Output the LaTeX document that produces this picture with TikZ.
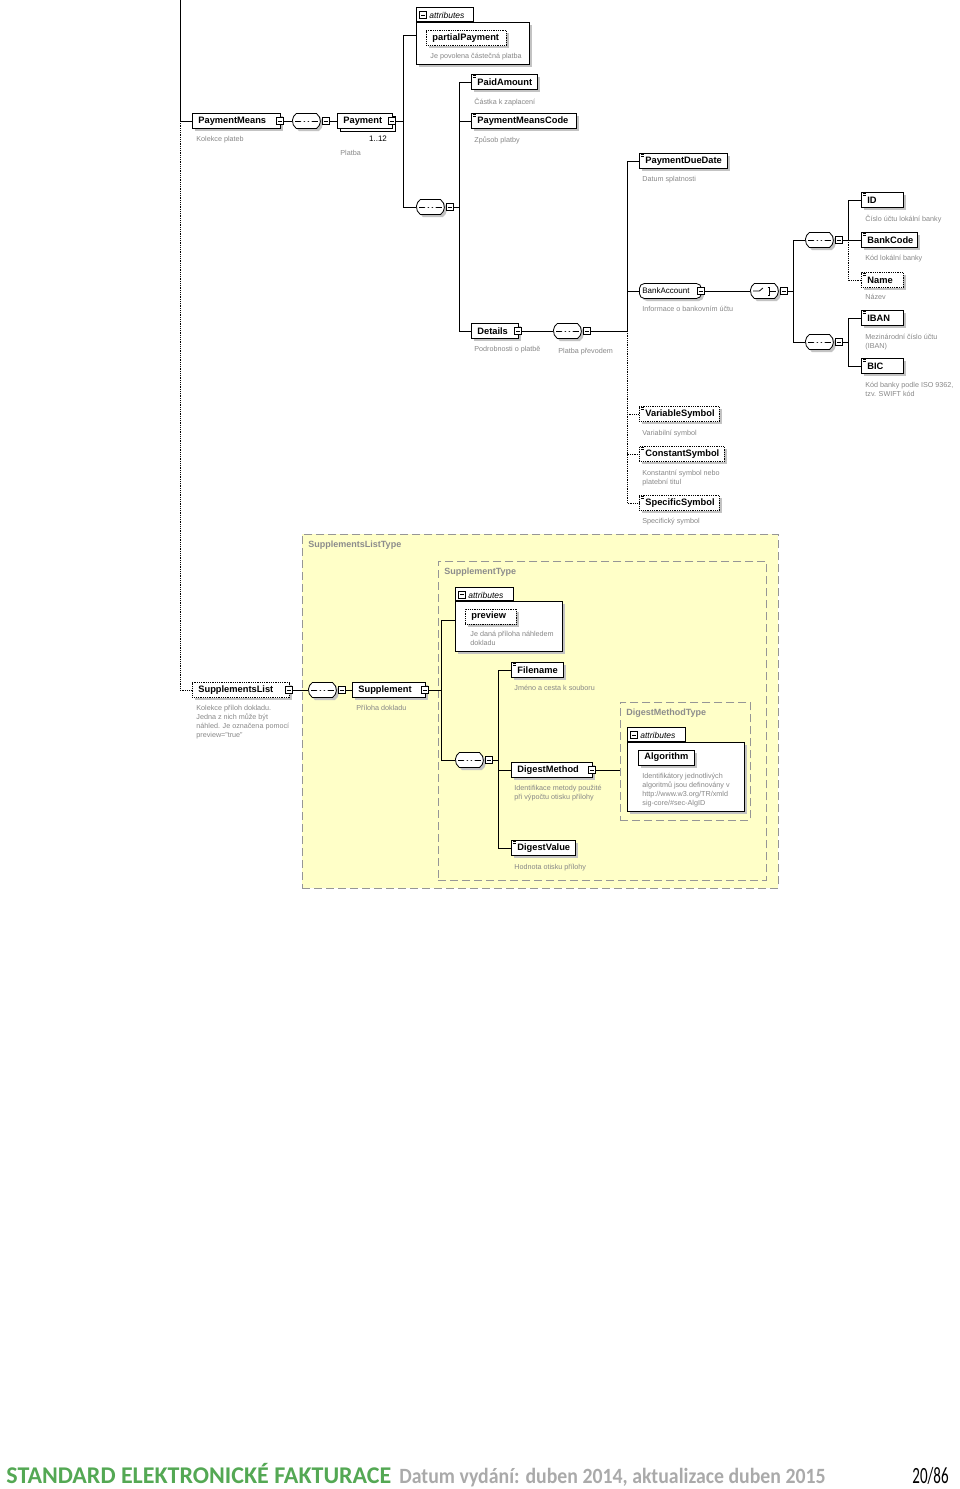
\documentclass[tikz,border=0pt]{standalone}
\usepackage{fontspec}
\usepackage{graphicx}
\setmainfont{Liberation Sans}
\newfontfamily\footfont{Carlito}
\usetikzlibrary{shapes.misc,shadows}
\definecolor{desc}{RGB}{135,135,135}
\definecolor{ybg}{RGB}{255,255,200}
\definecolor{ybd}{RGB}{150,150,150}
\definecolor{tlab}{RGB}{140,140,140}
\definecolor{fgreen}{RGB}{84,168,84}
\definecolor{fgray}{RGB}{170,170,170}
\definecolor{shd}{RGB}{195,195,195}
\tikzset{
  sh/.style={drop shadow={shadow xshift=2.5pt,shadow yshift=-2.5pt,fill=shd,opacity=1}},
  elbase/.style={draw, fill=white, line width=0.8pt, minimum height=15pt, inner ysep=0pt, inner xsep=6pt,
    anchor=west, align=left, text width=#1,
    font=\fontsize{9.3}{10}\selectfont\bfseries},
  el/.style={elbase=#1, sh},
  opt/.style={densely dotted},
  mb/.style={draw, fill=white, line width=0.6pt, minimum size=7pt, inner sep=0pt,
    path picture={\draw[line width=0.6pt] ([xshift=1.5pt]path picture bounding box.west) -- ([xshift=-1.5pt]path picture bounding box.east);}},
  comp/.style={draw, fill=white, line width=0.8pt, rounded rectangle, rounded rectangle arc length=110,
    minimum width=28pt, minimum height=15pt, inner sep=0pt, anchor=west, sh},
  seqp/.style={path picture={
    \draw[line width=0.9pt] ([xshift=3pt]path picture bounding box.west) -- ([xshift=-3pt]path picture bounding box.east);
    \fill (path picture bounding box.center) circle (1.8pt)
          ([xshift=-4pt]path picture bounding box.center) circle (1.8pt)
          ([xshift=4pt]path picture bounding box.center) circle (1.8pt);}},
  choicep/.style={path picture={
    \draw[line width=0.8pt] ([xshift=3pt]path picture bounding box.west) -- ([xshift=-5pt]path picture bounding box.center)
       -- ([xshift=-1.5pt,yshift=3pt]path picture bounding box.center);
    \fill ([xshift=1.5pt,yshift=3pt]path picture bounding box.center) circle (1pt)
          ([xshift=1.5pt]path picture bounding box.center) circle (1pt)
          ([xshift=1.5pt,yshift=-3pt]path picture bounding box.center) circle (1pt);
    \draw[line width=0.6pt] ([xshift=3.2pt,yshift=4pt]path picture bounding box.center) -- ([xshift=4.8pt,yshift=4pt]path picture bounding box.center)
       -- ([xshift=4.8pt,yshift=-4pt]path picture bounding box.center) -- ([xshift=3.2pt,yshift=-4pt]path picture bounding box.center);
    \draw[line width=0.8pt] ([xshift=4.8pt]path picture bounding box.center) -- ([xshift=-3pt]path picture bounding box.east);}},
  ds/.style={font=\fontsize{7.2}{9}\selectfont, text=desc, anchor=north west, inner sep=0pt, align=left, yshift=-1.5pt},
  box/.style={draw, fill=white, line width=0.8pt, inner sep=0pt},
  atl/.style={font=\fontsize{8.5}{9}\selectfont\itshape, inner sep=0pt, anchor=west},
  tl/.style={font=\fontsize{9}{10}\selectfont\bfseries, text=tlab, inner sep=0pt, anchor=west},
  cont/.style={draw=ybd, fill=ybg, line width=0.8pt, dash pattern=on 8pt off 4pt, inner sep=0pt, anchor=north west},
}
\begin{document}
\begin{tikzpicture}[x=1pt,y=-1pt,line width=0.8pt]
\useasboundingbox (0,0) rectangle (960,1489);

% ---------- Payment part ----------
\coordinate (top) at (180,0);
\coordinate (jL) at (180,121);
\node[el=76pt] (pm) at (192,121) {PaymentMeans};
\node[mb] (pmM) at ([xshift=-1pt]pm.east) {};
\node[ds] at (196,134) {Kolekce plateb};

\node[comp, seqp] (seqA) at (292,121) {};
\node[mb, anchor=west] (seqAM) at ([xshift=1pt]seqA.east) {};

\node[elbase=43pt, copy shadow={shadow xshift=3pt,shadow yshift=-3pt}] (pay) at (337,121) {Payment};
\node[mb] (payM) at ([xshift=-1pt]pay.east) {};
\node[font=\fontsize{8}{9}\selectfont, inner sep=0pt] at (378,139) {1..12};
\node[ds] at (340,148) {Platba};

\coordinate (j1) at (403,121);
\coordinate (a1) at (416,35);

\node[box, sh, minimum width=113pt, minimum height=42pt, anchor=north west] (at1) at (416,22) {};
\node[box, minimum width=57pt, minimum height=14pt, anchor=south west] (at1t) at (416,22) {};
\node[mb] (at1m) at (423,15) {};
\node[atl] at (429,15.5) {attributes};
\node[el=68pt, opt] (pp) at (426,38) {partialPayment};
\node[ds] at (430,51) {Je povolena částečná platba};

\node[comp, seqp] (seqB) at (416,207) {};
\node[mb, anchor=west] (seqBM) at ([xshift=1pt]seqB.east) {};
\coordinate (j2) at (459,207);

\node[el=54pt] (paid) at (471,82) {PaidAmount};
\node[ds] at (474,96) {Částka k zaplacení};
\node[el=93pt] (pmc) at (471,121) {PaymentMeansCode};
\node[ds] at (474,135) {Způsob platby};
\node[el=35pt] (det) at (471,331) {Details};
\node[mb] (detM) at ([xshift=-1pt]det.east) {};
\node[ds] at (474,344) {Podrobnosti o platbě};

\node[comp, seqp] (seqC) at (553,331) {};
\node[mb, anchor=west] (seqCM) at ([xshift=1pt]seqC.east) {};
\node[ds] at (558,346) {Platba převodem};
\coordinate (j3) at (627,331);

\node[el=76pt] (pdd) at (639,161) {PaymentDueDate};
\node[ds] at (642,174) {Datum splatnosti};
\node[el=56pt, inner xsep=3pt, rounded corners=5pt, font=\fontsize{8}{10}\selectfont] (ba) at (639,291) {BankAccount};
\node[mb] (baM) at ([xshift=-1pt]ba.east) {};
\node[ds] at (642,304) {Informace o bankovním účtu};

\node[comp, choicep] (ch) at (750,291) {};
\node[mb, anchor=west] (chM) at ([xshift=1pt]ch.east) {};
\coordinate (j4) at (793,291);

\node[comp, seqp] (seqD) at (805,240) {};
\node[mb, anchor=west] (seqDM) at ([xshift=1pt]seqD.east) {};
\coordinate (j5) at (848,240);
\node[el=30pt] (id) at (861,200) {ID};
\node[ds] at (865,213) {Číslo účtu lokální banky};
\node[el=44pt] (bc) at (861,240) {BankCode};
\node[ds] at (865,253) {Kód lokální banky};
\node[el=30pt, opt] (nm) at (861,280) {Name};
\node[ds] at (865,292) {Název};

\node[comp, seqp] (seqE) at (805,342) {};
\node[mb, anchor=west] (seqEM) at ([xshift=1pt]seqE.east) {};
\coordinate (j6) at (848,342);
\node[el=30pt] (iban) at (861,318) {IBAN};
\node[ds] at (865,332) {Mezinárodní číslo účtu\\(IBAN)};
\node[el=30pt] (bic) at (861,366) {BIC};
\node[ds] at (865,380) {Kód banky podle ISO 9362,\\tzv. SWIFT kód};

\node[el=68pt, opt] (vs) at (639,414) {VariableSymbol};
\node[ds] at (642,428) {Variabilní symbol};
\node[el=73pt, opt] (cs) at (639,454) {ConstantSymbol};
\node[ds] at (642,468) {Konstantní symbol nebo\\platební titul};
\node[el=68pt, opt] (ss) at (639,503) {SpecificSymbol};
\node[ds] at (642,516) {Specifický symbol};

% ---------- Supplements part ----------
\node[cont, minimum width=476pt, minimum height=354pt] (slt) at (302,534) {};
\node[tl] at (308,545) {SupplementsListType};
\node[cont, minimum width=328pt, minimum height=319pt] (st) at (438,561) {};
\node[tl] at (444,572) {SupplementType};

\node[el=85pt, opt] (sl) at (192,690) {SupplementsList};
\node[mb] (slM) at ([xshift=-1pt]sl.east) {};
\node[ds] at (196,703) {Kolekce příloh dokladu.\\Jedna z nich může být\\náhled. Je označena pomocí\\preview="true"};

\node[comp, seqp] (seqF) at (308,690) {};
\node[mb, anchor=west] (seqFM) at ([xshift=1pt]seqF.east) {};
\node[el=61pt] (sup) at (352,690) {Supplement};
\node[mb] (supM) at ([xshift=-1pt]sup.east) {};
\node[ds] at (356,703) {Příloha dokladu};
\coordinate (j7) at (441,690);
\coordinate (a2) at (455,620);

\node[box, sh, minimum width=107pt, minimum height=50pt, anchor=north west] (at2) at (455,601) {};
\node[box, minimum width=58pt, minimum height=13pt, anchor=south west] (at2t) at (455,601) {};
\node[mb] (at2m) at (462,594.5) {};
\node[atl] at (468,595) {attributes};
\node[el=39pt, opt] (pv) at (465,616.5) {preview};
\node[ds] at (470,629) {Je daná příloha náhledem\\dokladu};

\node[comp, seqp] (seqG) at (455,760) {};
\node[mb, anchor=west] (seqGM) at ([xshift=1pt]seqG.east) {};
\coordinate (j8) at (498,760);

\node[el=40pt] (fn) at (511,670) {Filename};
\node[ds] at (514,683) {Jméno a cesta k souboru};
\node[el=69pt] (dm) at (511,770) {DigestMethod};
\node[mb] (dmM) at ([xshift=-1pt]dm.east) {};
\node[ds] at (514,783) {Identifikace metody použité\\při výpočtu otisku přílohy};
\node[el=52pt] (dv) at (511,848) {DigestValue};
\node[ds] at (514,862) {Hodnota otisku přílohy};

\node[cont, minimum width=130pt, minimum height=118pt] (dmt) at (620,702) {};
\node[tl] at (626,713) {DigestMethodType};
\coordinate (dmtw) at (620,770);
\node[box, sh, minimum width=117pt, minimum height=69pt, anchor=north west] (at3) at (627,742) {};
\node[box, minimum width=58pt, minimum height=14pt, anchor=south west] (at3t) at (627,742) {};
\node[mb] (at3m) at (634,735) {};
\node[atl] at (640,735.5) {attributes};
\node[el=44pt] (alg) at (638,757.5) {Algorithm};
\node[ds] at (642,771) {Identifikátory jednotlivých\\algoritmů jsou definovány v\\http://www.w3.org/TR/xmld\\sig-core/\#sec-AlgID};

% simple-type marks
\foreach \n in {paid,pmc,pdd,id,bc,nm,iban,bic,vs,cs,ss,fn,dv}{
  \fill ([shift={(1.5pt,-1pt)}]\n.north west) rectangle +(3.5pt,-1.1pt);
  \fill ([shift={(1.5pt,-3pt)}]\n.north west) rectangle +(3.5pt,-1.1pt);
}

% ---------- connectors ----------
\draw (top) -- (jL) -- (pm.west);
\draw[opt] (jL) |- (sl.west);
\draw (pmM.east) -- (seqA.west);
\draw (seqAM.east) -- (pay.west);
\draw (payM.east) -- (j1);
\draw (j1) |- (a1);
\draw (j1) |- (seqB.west);
\draw (seqBM.east) -- (j2);
\draw (j2) |- (paid.west);
\draw (j2) |- (pmc.west);
\draw (j2) |- (det.west);
\draw (detM.east) -- (seqC.west);
\draw (seqCM.east) -- (j3);
\draw (j3) |- (pdd.west);
\draw (j3) |- (ba.west);
\draw[opt] (j3) |- (vs.west);
\draw[opt] (j3) |- (cs.west);
\draw[opt] (j3) |- (ss.west);
\draw (baM.east) -- (ch.west);
\draw (chM.east) -- (j4);
\draw (j4) |- (seqD.west);
\draw (j4) |- (seqE.west);
\draw (seqDM.east) -- (j5);
\draw (j5) |- (id.west);
\draw (j5) -- (bc.west);
\draw[opt] (j5) |- (nm.west);
\draw (seqEM.east) -- (j6);
\draw (j6) |- (iban.west);
\draw (j6) |- (bic.west);
\draw (slM.east) -- (seqF.west);
\draw (seqFM.east) -- (sup.west);
\draw (supM.east) -- (j7);
\draw (j7) |- (a2);
\draw (j7) |- (seqG.west);
\draw (seqGM.east) -- (j8);
\draw (j8) |- (fn.west);
\draw (j8) |- (dm.west);
\draw (j8) |- (dv.west);
\draw (dmM.east) -- (dmtw);

% ---------- footer ----------
\node[anchor=base west, inner sep=0pt, font=\footfont\fontsize{24}{28}\selectfont\bfseries, text=fgreen] (ft1) at (6,1483) {STANDARD ELEKTRONICKÉ FAKTURACE};
\node[anchor=base west, inner sep=0pt, font=\footfont\fontsize{19.8}{24}\selectfont\bfseries, text=fgray] (ft2) at (399,1483) {\scalebox{1}[1.1]{Datum vydání: duben 2014, aktualizace duben 2015}};
\node[anchor=base east, inner sep=0pt, font=\footfont\fontsize{15}{18}\selectfont] (pg) at (949,1483) {\scalebox{1}[1.55]{20/86}};
\end{tikzpicture}
\end{document}
